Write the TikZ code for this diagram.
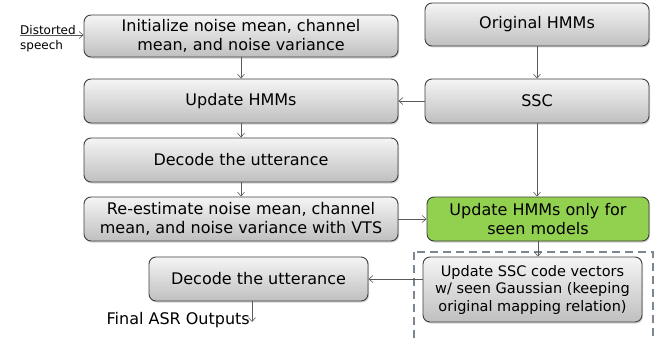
\documentclass[tikz,border=0pt]{standalone}
\usepackage{fontspec}
\setmainfont{DejaVu Sans}
\usetikzlibrary{arrows.meta,shadows}
\definecolor{boxline}{HTML}{3F3F3F}
\definecolor{arrowgray}{HTML}{5A5A5A}
\definecolor{seengreen}{HTML}{92D050}
\definecolor{dashgray}{HTML}{7D8794}
\tikzset{
  procbox/.style={draw=boxline, line width=0.9pt, rounded corners=7pt,
    top color=white!96!black, bottom color=black!25,
    drop shadow={opacity=0.35, shadow xshift=1pt, shadow yshift=-1.5pt},
    align=center, inner sep=2pt,
    font=\fontsize{16}{19.5}\selectfont},
  greenbox/.style={procbox, fill=seengreen, top color=seengreen, bottom color=seengreen},
  flow/.style={draw=arrowgray, line width=0.6pt,
    -{Straight Barb[length=4pt,width=7pt,line width=0.6pt]}},
  plain/.style={font=\fontsize{16}{19.5}\selectfont, inner sep=0pt}
}
\begin{document}
\begin{tikzpicture}[x=1pt,y=-1pt]
\useasboundingbox (0,0) rectangle (660,337);

% left column
\node[procbox, minimum width=314pt, minimum height=42pt] (init) at (241,36)
  {Initialize noise mean, channel\\mean, and noise variance};
\node[procbox, minimum width=314pt, minimum height=44pt] (upd) at (241,101) {Update HMMs};
\node[procbox, minimum width=314pt, minimum height=44pt] (dec) at (241,160) {Decode the utterance};
\node[procbox, minimum width=314pt, minimum height=44pt] (reest) at (241,219)
  {Re-estimate noise mean, channel\\mean, and noise variance with VTS};
\node[procbox, minimum width=219pt, minimum height=44pt] (dec2) at (258.5,279) {Decode the utterance};

% right column
\node[procbox, minimum width=224pt, minimum height=43pt] (orig) at (537,24.5) {Original HMMs};
\node[procbox, minimum width=224pt, minimum height=44pt] (ssc) at (537,101) {SSC};
\node[greenbox, minimum width=222pt, minimum height=44pt] (seen) at (538,219)
  {Update HMMs only for\\seen models};

% dashed group around the code-vector update
\draw[dashgray, line width=1.4pt, dash pattern=on 8pt off 5pt] (414,252) rectangle (653,350);
\node[procbox, minimum width=219pt, minimum height=65pt,
      font=\fontsize{14.5}{17.5}\selectfont] (code) at (532.5,289.5)
  {Update SSC code vectors\\w/ seen Gaussian (keeping\\original mapping relation)};

% input and output labels
\node[anchor=base west, inner sep=0pt, font=\fontsize{12}{14}\selectfont] (dlab) at (20,35) {Distorted};
\node[anchor=base west, inner sep=0pt, font=\fontsize{12}{14}\selectfont] (slab) at (20,49) {speech};
\coordinate (din) at (20,35);
\node[plain, anchor=base east] (final) at (250,324) {Final ASR Outputs};
\coordinate (fin) at (252,322);

% connectors
\draw[flow] (din) -- (init.west |- din);
\draw[flow] (init) -- (upd);
\draw[flow] (upd) -- (dec);
\draw[flow] (dec) -- (reest);
\draw[flow] (orig) -- (ssc);
\draw[flow] (ssc) -- (upd);
\draw[flow] (ssc.south) -- (ssc.south |- seen.north);
\draw[flow] (reest) -- (seen);
\draw[flow] (seen.south) -- (seen.south |- code.north);
\draw[flow] (code.west |- dec2) -- (dec2.east);
\draw[flow] (dec2.south -| fin) -- (fin);
\end{tikzpicture}
\end{document}
